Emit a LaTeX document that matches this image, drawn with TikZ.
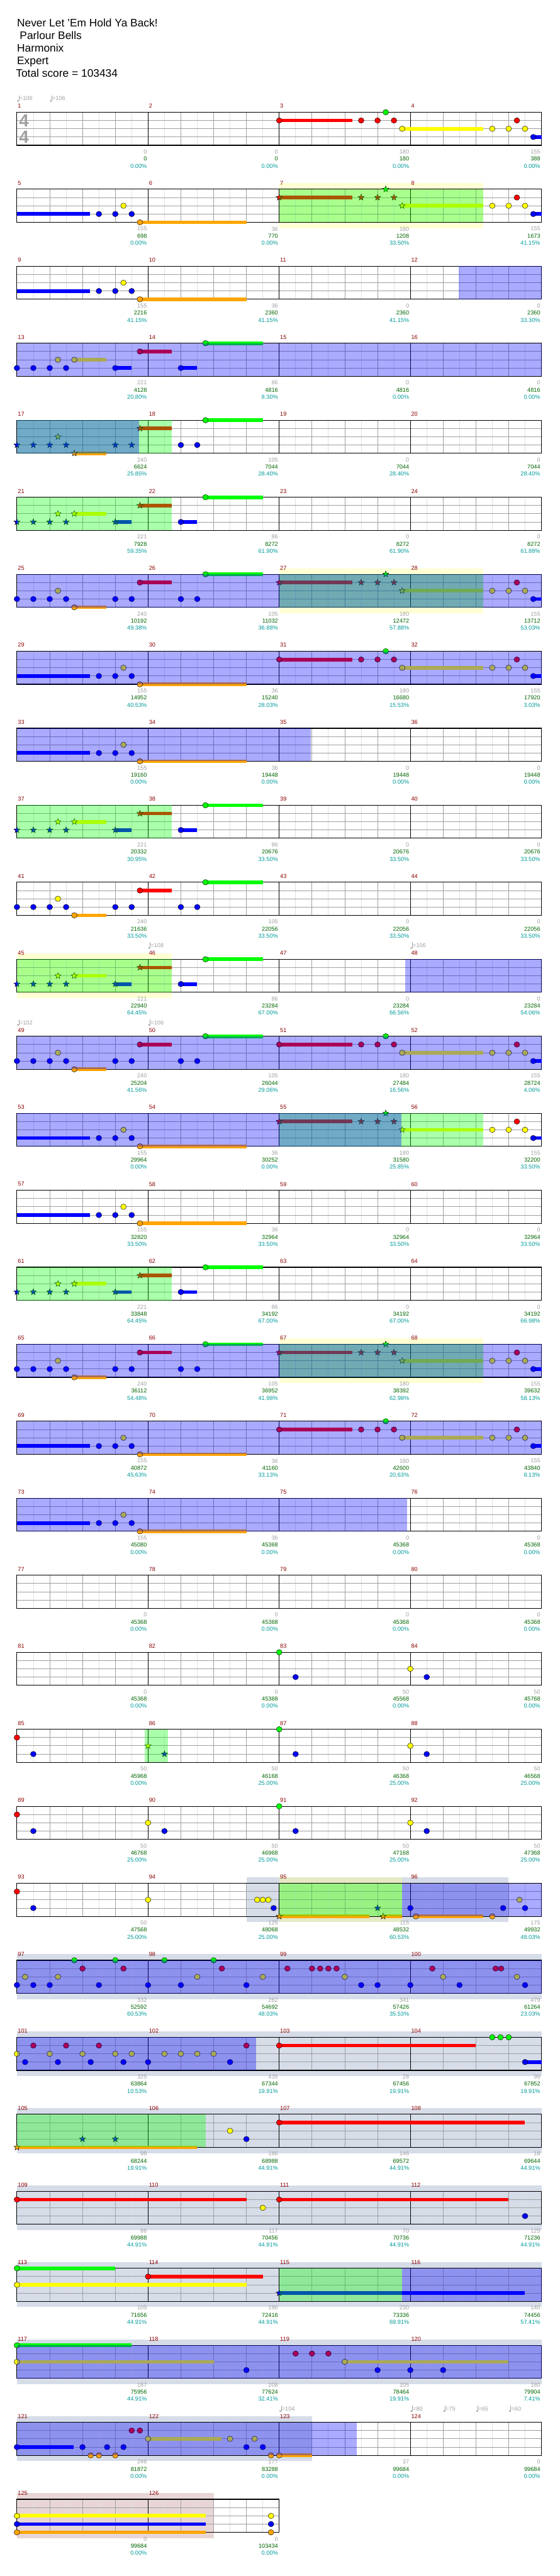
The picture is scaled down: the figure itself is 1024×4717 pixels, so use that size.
\documentclass[tikz,border=0pt]{standalone}
\usepackage{fontspec}
\setmainfont{Liberation Sans}
\usetikzlibrary{calc}

\definecolor{gGreen}{HTML}{00FF00}
\definecolor{gRed}{HTML}{FF0000}
\definecolor{gYellow}{HTML}{FFFF00}
\definecolor{gBlue}{HTML}{0000FF}
\definecolor{gOrange}{HTML}{FFA500}
\definecolor{barred}{HTML}{8B0000}
\definecolor{numgrey}{HTML}{A0A0A0}
\definecolor{numgreen}{HTML}{006400}
\definecolor{numteal}{HTML}{009999}
\definecolor{gridlight}{HTML}{E0E0E0}
\definecolor{gridmid}{HTML}{A0A0A0}
\definecolor{unicol}{HTML}{FFFF90}
\definecolor{fillcol}{HTML}{D6DCE8}
\definecolor{endcol}{HTML}{E8D6D6}

% x of a beat inside a bar, and the top of that bar's staff
\newcommand{\mpos}[2]{%
  \pgfmathtruncatemacro{\rw}{(#1-1)/4}%
  \pgfmathsetmacro{\px}{31+240*(#1-1-4*\rw)+60*(#2)}%
  \pgfmathsetmacro{\rt}{205.5+141*\rw}}

% one staff: row, number of bars
\newcommand{\staff}[2]{%
  \pgfmathsetmacro{\T}{205.5+141*(#1-1)}%
  \pgfmathsetmacro{\R}{31+240*#2}%
  \pgfmathtruncatemacro{\nh}{8*#2-1}%
  \pgfmathtruncatemacro{\nb}{4*#2-1}%
  \pgfmathtruncatemacro{\nm}{#2-1}%
  \foreach \k in {1,...,\nh} \draw[halfline] (31+30*\k,\T) -- ++(0,60.5);
  \foreach \k in {1,...,\nb} \draw[beatline] (31+60*\k,\T) -- ++(0,60.5);
  \foreach \l in {1,2,3} \draw[laneline] (31,\T+15.125*\l) -- (\R,\T+15.125*\l);
  \foreach \k in {1,...,\nm} \draw[barline] (31+240*\k,\T) -- ++(0,60.5);
  \draw[staffline] (31,\T) rectangle (\R,\T+60.5);}

% gems: colour, bar, beat, lane
\newcommand{\nt}[4]{\mpos{#2}{#3}%
  \filldraw[fill=#1, gemline] (\px,\rt+15.125*#4) ellipse (5.2pt and 5pt);}
\newcommand{\st}[4]{\mpos{#2}{#3}%
  \filldraw[fill=#1, gemline] (\px,\rt+15.125*#4)
    +(90:6pt) -- +(126:2.5pt) -- +(162:6pt) -- +(198:2.5pt) -- +(234:6pt)
    -- +(270:2.5pt) -- +(306:6pt) -- +(342:2.5pt) -- +(18:6pt) -- +(54:2.5pt) -- cycle;}
% sustain: colour, bar, from beat, to beat, lane
\newcommand{\sus}[5]{\mpos{#2}{#3}\let\pa\px\mpos{#2}{#4}%
  \fill[#1] (\pa,\rt+15.125*#5-3.3) rectangle (\px,\rt+15.125*#5+3.3);}
% boxes: bar, from beat, to beat
\newcommand{\bgbox}[4]{\mpos{#2}{#3}\let\pa\px\mpos{#2}{#4}%
  \fill[#1] (\pa,\rt-11) rectangle (\px,\rt+71);}
\newcommand{\odb}[3]{\mpos{#1}{#2}\let\pa\px\mpos{#1}{#3}%
  \fill[odblue] (\pa,\rt) rectangle (\px,\rt+60.5);}
\newcommand{\odg}[3]{\mpos{#1}{#2}\let\pa\px\mpos{#1}{#3}%
  \fill[odgreen] (\pa,\rt) rectangle (\px,\rt+60.5);}
\newcommand{\tempo}[3]{\mpos{#1}{#2}%
  \fill[numgrey] (\px+2,\rt-20.5) ellipse (2pt and 1.5pt);
  \draw[numgrey, line width=0.7pt] (\px+3.7,\rt-20.8) -- (\px+3.7,\rt-31);
  \node[tempotext] at (\px+4.5,\rt-25) {=#3};}

% phrases
\newcommand{\phrA}[2]{%
  \sus{gRed}{#1}{0}{2.23}{1}
  \sus{gYellow}{#1}{3.75}{6.23}{2}
  \sus{gBlue}{#1}{7.75}{8}{3}
  #2{gRed}{#1}{0}{1}
  \foreach \b in {2.5,3,3.5} {#2{gRed}{#1}{\b}{1}}
  #2{gGreen}{#1}{3.25}{0}
  #2{gYellow}{#1}{3.75}{2}
  \foreach \b in {6.5,7,7.5} {\nt{gYellow}{#1}{\b}{2}}
  \nt{gRed}{#1}{7.25}{1}
  \nt{gBlue}{#1}{7.75}{3}}
\newcommand{\phrB}[1]{%
  \sus{gBlue}{#1}{0}{2.23}{3}
  \sus{gOrange}{#1}{3.75}{7}{4}
  \foreach \b in {2.5,3,3.5} {\nt{gBlue}{#1}{\b}{3}}
  \nt{gYellow}{#1}{3.25}{2}
  \nt{gOrange}{#1}{3.75}{4}}
\newcommand{\phrCy}[2]{%
  \sus{gYellow}{#1}{1.75}{2.73}{2}
  \sus{gBlue}{#1}{3}{3.5}{3}
  \sus{gRed}{#1}{3.75}{4.73}{1}
  \sus{gBlue}{#1}{5}{5.5}{3}
  \sus{gGreen}{#1}{5.75}{7.5}{0}
  \foreach \b in {0,0.5,1,1.5,3} {#2{gBlue}{#1}{\b}{3}}
  #2{gYellow}{#1}{1.25}{2}
  #2{gYellow}{#1}{1.75}{2}
  #2{gRed}{#1}{3.75}{1}
  \nt{gBlue}{#1}{5}{3}
  \nt{gGreen}{#1}{5.75}{0}}
\newcommand{\phrCo}[2]{%
  \sus{gOrange}{#1}{1.75}{2.73}{4}
  \sus{gRed}{#1}{3.75}{4.73}{1}
  \sus{gGreen}{#1}{5.75}{7.5}{0}
  \foreach \b in {0,0.5,1,1.5,3,3.5} {#2{gBlue}{#1}{\b}{3}}
  #2{gYellow}{#1}{1.25}{2}
  #2{gOrange}{#1}{1.75}{4}
  #2{gRed}{#1}{3.75}{1}
  \nt{gBlue}{#1}{5}{3}
  \nt{gBlue}{#1}{5.5}{3}
  \nt{gGreen}{#1}{5.75}{0}}

\begin{document}
\begin{tikzpicture}[x=1pt, y=-1pt, font=\fontsize{10.6}{12}\selectfont,
  halfline/.style={draw=gridlight, line width=0.9pt},
  beatline/.style={draw=gridmid, line width=0.9pt},
  laneline/.style={draw=gridmid, line width=1pt},
  barline/.style={draw=black, line width=0.9pt},
  staffline/.style={draw=black, line width=1.3pt},
  gemline/.style={draw=black, line width=0.5pt},
  odblue/.style={fill=gBlue, fill opacity=0.333},
  odgreen/.style={fill=gGreen, fill opacity=0.333},
  unibox/.style={fill=unicol, fill opacity=0.4},
  fillbox/.style={fill=fillcol},
  endbox/.style={fill=endcol},
  barnum/.style={text=barred, anchor=west, inner sep=0pt},
  grnum/.style={text=numgrey, anchor=east, inner sep=0pt},
  scnum/.style={text=numgreen, anchor=east, inner sep=0pt},
  pcnum/.style={text=numteal, anchor=east, inner sep=0pt},
  tempotext/.style={text=numgrey, anchor=west, inner sep=0pt},
  headline/.style={anchor=base west, inner sep=0pt, font=\fontsize{20}{24}\selectfont}]
\useasboundingbox (0,0) rectangle (1024,4717);

% header
\node[headline] (song) at (31,49.3) {Never Let 'Em Hold Ya Back!};
\node[headline] (band) at (36,72.3) {Parlour Bells};
\node[headline] (author) at (31,95.3) {Harmonix};
\node[headline] (level) at (31,118.3) {Expert};
\node[headline] (total) at (29,141.3) {Total score = 103434};

% backgrounds
\bgbox{fillbox}{94}{3}{11}
\foreach \m in {97,101,...,117} {\bgbox{fillbox}{\m}{0}{16}}
\bgbox{fillbox}{121}{0}{9}
\bgbox{endbox}{125}{0}{6}
\bgbox{unibox}{7}{0}{6.23}
\bgbox{unibox}{27}{0}{6.23}
\bgbox{unibox}{45}{0}{4.73}
\bgbox{unibox}{67}{0}{6.23}
\bgbox{unibox}{95}{0}{3.75}

% staves
\foreach \r in {1,...,31} {\staff{\r}{4}}
\staff{32}{2}
\node[text=numgrey, font=\fontsize{32}{32}\selectfont\bfseries, inner sep=0pt] (sigtop) at (44,221) {4};
\node[text=numgrey, font=\fontsize{32}{32}\selectfont\bfseries, inner sep=0pt] (sigbot) at (44,251) {4};

% gems
\phrA{3}{\nt}
\phrB{5} \phrA{7}{\st}
\phrB{9}
\phrCy{13}{\nt}
\phrCo{17}{\st}
\phrCy{21}{\st}
\phrCo{25}{\nt} \phrA{27}{\st}
\phrB{29} \phrA{31}{\nt}
\phrB{33}
\phrCy{37}{\st}
\phrCo{41}{\nt}
\phrCy{45}{\st}
\phrCo{49}{\nt} \phrA{51}{\nt}
\phrB{53} \phrA{55}{\st}
\phrB{57}
\phrCy{61}{\st}
\phrCo{65}{\nt} \phrA{67}{\st}
\phrB{69} \phrA{71}{\nt}
\phrB{73}
% bars 81-96
\nt{gGreen}{83}{0}{0} \nt{gBlue}{83}{0.5}{3}
\nt{gYellow}{84}{0}{2} \nt{gBlue}{84}{0.5}{3}
\nt{gRed}{85}{0}{1} \nt{gBlue}{85}{0.5}{3}
\st{gYellow}{86}{0}{2} \st{gBlue}{86}{0.5}{3}
\nt{gGreen}{87}{0}{0} \nt{gBlue}{87}{0.5}{3}
\nt{gYellow}{88}{0}{2} \nt{gBlue}{88}{0.5}{3}
\nt{gRed}{89}{0}{1} \nt{gBlue}{89}{0.5}{3}
\nt{gYellow}{90}{0}{2} \nt{gBlue}{90}{0.5}{3}
\nt{gGreen}{91}{0}{0} \nt{gBlue}{91}{0.5}{3}
\nt{gYellow}{92}{0}{2} \nt{gBlue}{92}{0.5}{3}
\nt{gRed}{93}{0}{1} \nt{gBlue}{93}{0.5}{3}
\nt{gYellow}{94}{0}{2}
\foreach \b in {3.33,3.5,3.67} {\nt{gYellow}{94}{\b}{2}}
\nt{gBlue}{94}{3.83}{3}
\sus{gOrange}{95}{0}{2.75}{4} \st{gOrange}{95}{0}{4}
\st{gBlue}{95}{3}{3}
\sus{gOrange}{95}{3.17}{3.75}{4} \st{gOrange}{95}{3.17}{4}
\nt{gBlue}{96}{0}{3}
\sus{gOrange}{96}{0.17}{2.23}{4} \nt{gOrange}{96}{0.17}{4}
\nt{gOrange}{96}{2.5}{4}
\nt{gBlue}{96}{2.83}{3}
\nt{gYellow}{96}{3.33}{2}
\nt{gBlue}{96}{3.5}{3}
% bars 97-100
\foreach \b in {1.75,3} {\nt{gGreen}{97}{\b}{0}}
\foreach \b in {0.5,2} {\nt{gGreen}{98}{\b}{0}}
\foreach \b in {2,3.25} {\nt{gRed}{97}{\b}{1}}
\nt{gRed}{98}{2.25}{1}
\foreach \b in {0.25,1,1.25,1.5,1.75} {\nt{gRed}{99}{\b}{1}}
\foreach \b in {0.67,2.6,2.77} {\nt{gRed}{100}{\b}{1}}
\foreach \b in {0.25,1.25} {\nt{gYellow}{97}{\b}{2}}
\foreach \b in {1.5,3.5} {\nt{gYellow}{98}{\b}{2}}
\nt{gYellow}{99}{2}{2}
\foreach \b in {1,3.25} {\nt{gYellow}{100}{\b}{2}}
\foreach \b in {0,0.5,1,2.5} {\nt{gBlue}{97}{\b}{3}}
\foreach \b in {0,1,3} {\nt{gBlue}{98}{\b}{3}}
\foreach \b in {2.5,3} {\nt{gBlue}{99}{\b}{3}}
\foreach \b in {0,1.5,3.5} {\nt{gBlue}{100}{\b}{3}}
% bars 101-104
\foreach \b in {0.5,1.5,2.5} {\nt{gRed}{101}{\b}{1}}
\foreach \b in {0,1,2,3,3.5} {\nt{gYellow}{101}{\b}{2}}
\foreach \b in {0.25,1.25,2.25,3.25} {\nt{gBlue}{101}{\b}{3}}
\foreach \b in {0.5,1,1.5,2} {\nt{gYellow}{102}{\b}{2}}
\foreach \b in {0,2.5} {\nt{gBlue}{102}{\b}{3}}
\nt{gRed}{102}{3}{1}
\sus{gRed}{103}{0}{6}{1} \nt{gRed}{103}{0}{1}
\foreach \b in {2.5,2.75,3} {\nt{gGreen}{104}{\b}{0}}
\sus{gBlue}{104}{3.5}{4}{3} \nt{gBlue}{104}{3.5}{3}
% bars 105-108
\sus{gOrange}{105}{0}{5.5}{4} \st{gOrange}{105}{0}{4}
\foreach \b in {2,3} {\st{gBlue}{105}{\b}{3}}
\nt{gYellow}{106}{2.5}{2} \nt{gBlue}{106}{3}{3}
\sus{gRed}{107}{0}{7.5}{1} \nt{gRed}{107}{0}{1}
% bars 109-112
\sus{gRed}{109}{0}{7}{1} \nt{gRed}{109}{0}{1}
\nt{gYellow}{110}{3.5}{2}
\sus{gRed}{111}{0}{7}{1} \nt{gRed}{111}{0}{1}
\nt{gBlue}{112}{3.5}{3}
% bars 113-116
\sus{gGreen}{113}{0}{3}{0} \nt{gGreen}{113}{0}{0}
\sus{gYellow}{113}{0}{7}{2} \nt{gYellow}{113}{0}{2}
\sus{gRed}{114}{0}{3.5}{1} \nt{gRed}{114}{0}{1}
\sus{gBlue}{115}{0}{7.5}{3} \st{gBlue}{115}{0}{3}
% bars 117-120
\sus{gGreen}{117}{0}{3.5}{0} \nt{gGreen}{117}{0}{0}
\sus{gYellow}{117}{0}{6}{2} \nt{gYellow}{117}{0}{2}
\foreach \b in {0.5,1,1.5} {\nt{gRed}{119}{\b}{1}}
\sus{gYellow}{119}{2}{7}{2} \nt{gYellow}{119}{2}{2}
\nt{gBlue}{118}{3}{3} \nt{gBlue}{119}{3}{3}
\foreach \b in {0,1} {\nt{gBlue}{120}{\b}{3}}
% bars 121-126
\sus{gBlue}{121}{0}{1.73}{3} \nt{gBlue}{121}{0}{3}
\nt{gBlue}{121}{2}{3}
\nt{gOrange}{121}{2.25}{4} \nt{gOrange}{121}{2.5}{4}
\nt{gBlue}{121}{2.75}{3}
\nt{gOrange}{121}{3}{4}
\nt{gBlue}{121}{3.25}{3}
\nt{gRed}{121}{3.5}{1} \nt{gRed}{121}{3.75}{1}
\sus{gYellow}{122}{0}{2.23}{2} \nt{gYellow}{122}{0}{2}
\nt{gYellow}{122}{2.5}{2}
\nt{gBlue}{122}{3}{3}
\nt{gYellow}{122}{3.25}{2}
\nt{gBlue}{122}{3.5}{3}
\nt{gOrange}{122}{3.75}{4}
\sus{gOrange}{123}{0}{1}{4} \nt{gOrange}{123}{0}{4}
\foreach \l/\c in {2/gYellow,3/gBlue,4/gOrange} {
  \sus{\c}{125}{0}{5.75}{\l} \nt{\c}{125}{0}{\l} \nt{\c}{125}{7.75}{\l}}

% star power phrases, then overdrive
\odg{7}{0}{6.23}
\odg{17}{0}{4.73}
\odg{21}{0}{4.73}
\odg{27}{0}{6.23}
\odg{37}{0}{4.73}
\odg{45}{0}{4.73}
\odg{55}{0}{6.23}
\odg{61}{0}{4.73}
\odg{67}{0}{6.23}
\odg{85}{3.9}{4.6}
\odg{95}{0}{3.75}
\odg{105}{0}{5.75}
\odg{115}{0}{3.75}
\odb{12}{1.48}{4}
\odb{13}{0}{16}
\odb{17}{0}{3.72}
\odb{25}{0}{16}
\odb{29}{0}{16}
\odb{33}{0}{8.96}
\odb{47}{3.84}{8}
\odb{49}{0}{16}
\odb{53}{0}{11.73}
\odb{65}{0}{16}
\odb{69}{0}{16}
\odb{73}{0}{11.9}
\odb{95}{3.75}{8}
\odb{97}{0}{16}
\odb{101}{0}{7.3}
\odb{115}{3.75}{8}
\odb{117}{0}{16}
\odb{121}{0}{10.37}

% tempo marks
\tempo{1}{0}{106} \tempo{1}{1}{106}
\tempo{46}{0}{108} \tempo{48}{0}{106}
\tempo{49}{0}{102} \tempo{50}{0}{106}
\tempo{123}{0}{104} \tempo{124}{0}{80} \tempo{124}{1}{75}
\tempo{124}{2}{65} \tempo{124}{3}{60}

% bar numbers
\foreach \m in {1,...,126} {\mpos{\m}{0}
  \node[barnum] (bar\m) at (\px+1.5,\rt-11.2) {\m};}

% per bar: gems score, running score, percentage
\foreach \m/\g/\s/\p in {
  1/0/0/0.00, 2/0/0/0.00, 3/180/180/0.00, 4/155/388/0.00,
  5/155/698/0.00, 6/36/770/0.00, 7/180/1208/33.50, 8/155/1673/41.15,
  9/155/2216/41.15, 10/36/2360/41.15, 11/0/2360/41.15, 12/0/2360/33.30,
  13/221/4128/20.80, 14/86/4816/8.30, 15/0/4816/0.00, 16/0/4816/0.00,
  17/240/6624/25.85, 18/105/7044/28.40, 19/0/7044/28.40, 20/0/7044/28.40,
  21/221/7928/59.35, 22/86/8272/61.90, 23/0/8272/61.90, 24/0/8272/61.88,
  25/240/10192/49.38, 26/105/11032/36.88, 27/180/12472/57.88, 28/155/13712/53.03,
  29/155/14952/40.53, 30/36/15240/28.03, 31/180/16680/15.53, 32/155/17920/3.03,
  33/155/19160/0.00, 34/36/19448/0.00, 35/0/19448/0.00, 36/0/19448/0.00,
  37/221/20332/30.95, 38/86/20676/33.50, 39/0/20676/33.50, 40/0/20676/33.50,
  41/240/21636/33.50, 42/105/22056/33.50, 43/0/22056/33.50, 44/0/22056/33.50,
  45/221/22940/64.45, 46/86/23284/67.00, 47/0/23284/66.56, 48/0/23284/54.06,
  49/240/25204/41.56, 50/105/26044/29.06, 51/180/27484/16.56, 52/155/28724/4.06,
  53/155/29964/0.00, 54/36/30252/0.00, 55/180/31580/25.85, 56/155/32200/33.50,
  57/155/32820/33.50, 58/36/32964/33.50, 59/0/32964/33.50, 60/0/32964/33.50,
  61/221/33848/64.45, 62/86/34192/67.00, 63/0/34192/67.00, 64/0/34192/66.98,
  65/240/36112/54.48, 66/105/36952/41.98, 67/180/38392/62.98, 68/155/39632/58.13,
  69/155/40872/45.63, 70/36/41160/33.13, 71/180/42600/20.63, 72/155/43840/8.13,
  73/155/45080/0.00, 74/36/45368/0.00, 75/0/45368/0.00, 76/0/45368/0.00,
  77/0/45368/0.00, 78/0/45368/0.00, 79/0/45368/0.00, 80/0/45368/0.00,
  81/0/45368/0.00, 82/0/45368/0.00, 83/50/45568/0.00, 84/50/45768/0.00,
  85/50/45968/0.00, 86/50/46168/25.00, 87/50/46368/25.00, 88/50/46568/25.00,
  89/50/46768/25.00, 90/50/46968/25.00, 91/50/47168/25.00, 92/50/47368/25.00,
  93/50/47568/25.00, 94/125/48068/25.00, 95/115/48532/60.53, 96/175/49932/48.03,
  97/332/52592/60.53, 98/262/54692/48.03, 99/341/57426/35.53, 100/479/61264/23.03,
  101/325/63864/10.53, 102/435/67344/19.91, 103/28/67456/19.91, 104/99/67852/19.91,
  105/98/68244/19.91, 106/186/68988/44.91, 107/146/69572/44.91, 108/18/69644/44.91,
  109/86/69988/44.91, 110/117/70456/44.91, 111/70/70736/44.91, 112/125/71236/44.91,
  113/105/71656/44.91, 114/190/72416/44.91, 115/230/73336/69.91, 116/140/74456/57.41,
  117/187/75956/44.91, 118/208/77624/32.41, 119/105/78464/19.91, 120/180/79904/7.41,
  121/246/81872/0.00, 122/177/83288/0.00, 123/37/99684/0.00, 124/0/99684/0.00,
  125/0/99684/0.00, 126/0/103434/0.00} {
  \mpos{\m}{4}
  \node[grnum] (gs\m) at (\px-2,\rt+72.5) {\g};
  \node[scnum] (rs\m) at (\px-2,\rt+85.5) {\s};
  \node[pcnum] (pc\m) at (\px-2,\rt+98.5) {\p\%};}
\end{tikzpicture}
\end{document}
